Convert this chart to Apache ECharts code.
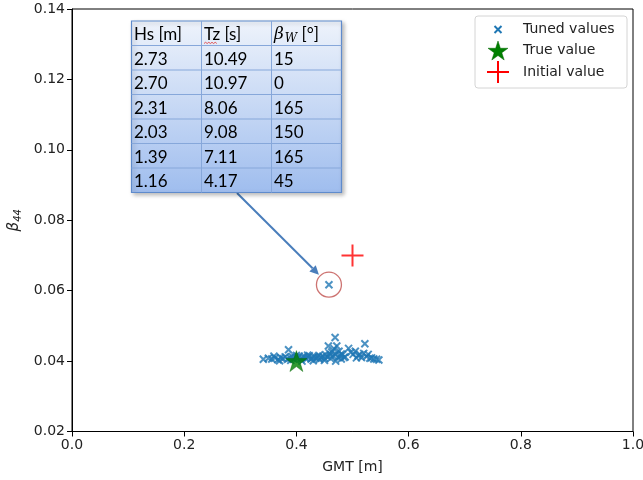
<!DOCTYPE html>
<html><head><meta charset="utf-8">
<script src="https://cdn.jsdelivr.net/npm/echarts@6/dist/echarts.min.js"></script>
<style>html,body{margin:0;padding:0;background:#fff}#c{width:643px;height:480px}</style>
</head><body><div id="c"></div>
<script>
// ---- data ----
const xTicks = [0.0, 0.2, 0.4, 0.6, 0.8, 1.0];
const yTicks = [0.02, 0.04, 0.06, 0.08, 0.10, 0.12, 0.14];
const tunedValues = [
  [0.341,0.0405],[0.350,0.0408],[0.356,0.0406],[0.362,0.0409],[0.367,0.0404],[0.372,0.0410],
  [0.376,0.0407],[0.380,0.0412],[0.384,0.0405],[0.386,0.0432],[0.389,0.0409],[0.392,0.0413],
  [0.395,0.0406],[0.398,0.0411],[0.402,0.0408],[0.405,0.0414],[0.408,0.0405],[0.411,0.0410],
  [0.414,0.0413],[0.417,0.0407],[0.420,0.0411],[0.423,0.0415],[0.426,0.0406],[0.429,0.0410],
  [0.432,0.0413],[0.435,0.0408],[0.438,0.0412],[0.441,0.0405],[0.444,0.0410],[0.447,0.0414],
  [0.450,0.0408],[0.452,0.0418],[0.455,0.0412],[0.457,0.0443],[0.459,0.0422],[0.461,0.0407],
  [0.463,0.0426],[0.465,0.0415],[0.467,0.0435],[0.469,0.0467],[0.470,0.0420],[0.472,0.0443],
  [0.474,0.0410],[0.476,0.0428],[0.478,0.0415],[0.480,0.0406],[0.482,0.0418],[0.485,0.0410],
  [0.487,0.0412],[0.493,0.0436],[0.497,0.0425],[0.501,0.0419],[0.505,0.0428],[0.507,0.0409],
  [0.510,0.0415],[0.513,0.0419],[0.516,0.0410],[0.520,0.0422],[0.522,0.0449],[0.525,0.0413],
  [0.528,0.0419],[0.531,0.0408],[0.534,0.0409],[0.538,0.0406],[0.543,0.0405],[0.547,0.0403],
  [0.370,0.0401],[0.390,0.0402],[0.410,0.0400],[0.430,0.0401],[0.450,0.0402],[0.470,0.0400],
  [0.360,0.0414],[0.400,0.0416],[0.420,0.0417],[0.440,0.0416],[0.460,0.0417],[0.480,0.0420]
];
const outlier = [0.458, 0.0617];
const trueValue = [[0.40, 0.040]];
const initialValue = [[0.50, 0.070]];
const legendNames = ['Tuned values', 'True value', 'Initial value'];
const tableHeader = ['Hs [m]', 'Tz [s]', '{b|β}{s|W}{n| [°]}'];
const tableHs = ['2.73', '2.70', '2.31', '2.03', '1.39', '1.16'];
const tableTz = ['10.49', '10.97', '8.06', '9.08', '7.11', '4.17'];
const tableBeta = ['15', '0', '165', '150', '165', '45'];

// ---- symbols ----
const xPath = 'path://M0,0L10,10M10,0L0,10';
const plusPath = 'path://M5,0L5,10M0,5L10,5';
const starPath = 'path://M50,0L61.2,34.5L97.6,34.5L68.2,55.9L79.4,90.5L50,69.1L20.6,90.5L31.8,55.9L2.4,34.5L38.8,34.5Z';

const chart = echarts.init(document.getElementById('c'), null, {renderer: 'canvas'});
const FONT = 'DejaVu Sans';
const axisCommon = {
  type: 'value',
  axisLine: {show: true, lineStyle: {color: '#000', width: 1}},
  axisTick: {show: true, length: 5, inside: false, lineStyle: {color: '#000', width: 1}},
  splitLine: {show: false},
  nameLocation: 'middle'
};

// table graphic
function buildTable() {
  const left = 131.5, top = 21, cw = 70, rh = 24.5;
  const rows = [tableHeader].concat(tableHs.map((h, i) => [h, tableTz[i], tableBeta[i]]));
  const W = cw * 3, H = rh * rows.length;
  const els = [];
  els.push({type: 'rect', shape: {x: left, y: top, width: W, height: H},
    style: {fill: new echarts.graphic.LinearGradient(0, 0, 0, 1, [
      {offset: 0, color: '#eef3fb'}, {offset: 1, color: '#9fbdee'}]),
      stroke: '#5f8bcc', lineWidth: 1.2,
      shadowBlur: 4, shadowOffsetX: 2, shadowOffsetY: 2, shadowColor: 'rgba(0,0,0,0.25)'}, z: 10});
  for (let r = 1; r < rows.length; r++) {
    els.push({type: 'line', shape: {x1: left, y1: top + r * rh, x2: left + W, y2: top + r * rh},
      style: {stroke: '#86a7da', lineWidth: 1}, z: 11});
  }
  for (let c = 1; c < 3; c++) {
    els.push({type: 'line', shape: {x1: left + c * cw, y1: top, x2: left + c * cw, y2: top + H},
      style: {stroke: '#86a7da', lineWidth: 1}, z: 11});
  }
  rows.forEach((row, r) => {
    row.forEach((t, c) => {
      els.push({type: 'text', x: left + c * cw + 2.5, y: top + r * rh + rh / 2 + 1.5, z: 12,
        style: {text: t, fill: '#000', font: '17px Lato', verticalAlign: 'middle', align: 'left',
          rich: {
            b: {fontFamily: 'DejaVu Serif', fontStyle: 'italic', fontSize: 17, fill: '#000'},
            s: {fontFamily: 'DejaVu Serif', fontStyle: 'italic', fontSize: 12, padding: [9, 0, 0, 1], fill: '#000'},
            n: {fontFamily: 'Lato', fontSize: 17, fill: '#000'}
          }}});
    });
  });
  // spell-check squiggle under "Tz"
  const sq = [];
  for (let i = 0; i <= 8; i++) sq.push([204 + i * 1.6, 43.5 - (i % 2) * 1.2]);
  els.push({type: 'polyline', shape: {points: sq}, style: {stroke: '#e03030', lineWidth: 0.8, fill: null}, z: 13});
  return els;
}

function buildLegend() {
  const els = [];
  const bx = 475, by = 16, bw = 152, bh = 72;
  els.push({type: 'rect', shape: {x: bx, y: by, width: bw, height: bh, r: 3},
    style: {fill: 'rgba(255,255,255,0.85)', stroke: '#d4d4d4', lineWidth: 1}, z: 20});
  const ys = [29.5, 50.5, 72];
  const ix = 498;
  els.push({type: 'polyline', shape: {points: [[ix - 3.5, ys[0] - 3.5], [ix + 3.5, ys[0] + 3.5]]}, style: {stroke: '#1f77b4', lineWidth: 2}, z: 21});
  els.push({type: 'polyline', shape: {points: [[ix + 3.5, ys[0] - 3.5], [ix - 3.5, ys[0] + 3.5]]}, style: {stroke: '#1f77b4', lineWidth: 2}, z: 21});
  const sp = [];
  for (let k = 0; k < 10; k++) {
    const a = -Math.PI / 2 + k * Math.PI / 5;
    const rr = k % 2 === 0 ? 10.5 : 4.0;
    sp.push([ix + rr * Math.cos(a), ys[1] + 1 + rr * Math.sin(a)]);
  }
  els.push({type: 'polygon', shape: {points: sp}, style: {fill: '#008000', stroke: '#006400', lineWidth: 0.5}, z: 21});
  els.push({type: 'line', shape: {x1: ix - 11, y1: ys[2], x2: ix + 11, y2: ys[2]}, style: {stroke: '#ff0000', lineWidth: 2}, z: 21});
  els.push({type: 'line', shape: {x1: ix, y1: ys[2] - 11, x2: ix, y2: ys[2] + 11}, style: {stroke: '#ff0000', lineWidth: 2}, z: 21});
  legendNames.forEach((n, i) => {
    els.push({type: 'text', x: 523, y: ys[i], z: 21,
      style: {text: n, font: '14px "DejaVu Sans"', fill: '#222', verticalAlign: 'middle', align: 'left'}});
  });
  return els;
}

chart.setOption({
  animation: false,
  grid: {left: 72, right: 10, top: 9, bottom: 48.5, outerBoundsMode: 'none', containLabel: false,
    show: true, borderColor: '#000', borderWidth: 1, backgroundColor: 'transparent'},
  xAxis: Object.assign({}, axisCommon, {
    min: xTicks[0], max: xTicks[xTicks.length - 1], interval: 0.2,
    axisLabel: {formatter: v => v.toFixed(1), color: '#222', fontSize: 14, fontFamily: FONT, margin: 7},
    name: 'GMT [m]', nameGap: 29,
    nameTextStyle: {color: '#222', fontSize: 14, fontFamily: FONT}
  }),
  yAxis: Object.assign({}, axisCommon, {
    min: yTicks[0], max: yTicks[yTicks.length - 1], interval: 0.02,
    axisLabel: {formatter: v => v.toFixed(2), color: '#222', fontSize: 14, fontFamily: FONT, margin: 7},
    name: '{b|β}{s|44}', nameGap: 42, nameRotate: 90,
    nameTextStyle: {color: '#222', fontSize: 14, fontFamily: FONT,
      rich: {
        b: {fontSize: 15, fontStyle: 'italic', fontFamily: FONT, color: '#222'},
        s: {fontSize: 10, fontStyle: 'italic', fontFamily: FONT, color: '#222', padding: [7, 0, 0, 0]}
      }}
  }),
  series: [
    {name: legendNames[0], type: 'scatter', data: tunedValues.concat([outlier]), symbol: xPath, symbolSize: 7,
      itemStyle: {color: '#1f77b4', borderColor: '#1f77b4', borderWidth: 2}, z: 2, silent: true},
    {name: legendNames[1], type: 'scatter', data: trueValue, symbol: starPath, symbolSize: 21,
      itemStyle: {color: '#008000', borderColor: '#006400', borderWidth: 0.5}, z: 4, silent: true},
    {name: legendNames[2], type: 'scatter', data: initialValue, symbol: plusPath, symbolSize: 22,
      itemStyle: {color: '#ff0000', borderColor: '#ff0000', borderWidth: 2}, z: 3, silent: true},
    {name: 'highlight', type: 'scatter', data: [outlier], symbol: 'circle', symbolSize: 25,
      itemStyle: {color: 'rgba(0,0,0,0)', borderColor: '#c0504d', borderWidth: 1.3}, z: 5, silent: true}
  ]
});

// arrow from the table to the highlighted point
const p = chart.convertToPixel({gridIndex: 0}, outlier);
const start = [237, 193];
const end = [p[0] - 10, p[1] - 10];
const dx = end[0] - start[0], dy = end[1] - start[1];
const L = Math.sqrt(dx * dx + dy * dy);
const ux = dx / L, uy = dy / L;
const hl = 9, hw = 4.5;
const base = [end[0] - ux * hl, end[1] - uy * hl];
const arrow = [
  {type: 'line', shape: {x1: start[0], y1: start[1], x2: base[0], y2: base[1]}, style: {stroke: '#4a7ebb', lineWidth: 2}, z: 9},
  {type: 'polygon', shape: {points: [end, [base[0] - uy * hw, base[1] + ux * hw], [base[0] + uy * hw, base[1] - ux * hw]]},
    style: {fill: '#4a7ebb'}, z: 9}
];

chart.setOption({graphic: {elements: buildTable().concat(buildLegend(), arrow)}});
</script>
</body></html>
